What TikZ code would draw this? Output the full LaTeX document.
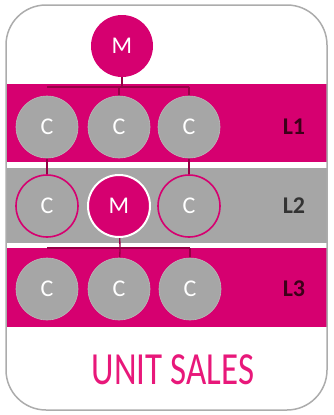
\documentclass[tikz,border=0pt]{standalone}
\usepackage{fontspec}
\setmainfont{Carlito}
\pgfdeclarelayer{bands}
\pgfdeclarelayer{links}
\pgfsetlayers{bands,links,main}
\definecolor{mag}{RGB}{214,0,112}
\definecolor{gry}{RGB}{166,166,166}
\definecolor{lnk}{RGB}{150,0,70}
\definecolor{lbl}{RGB}{60,0,25}
\definecolor{pinktext}{RGB}{232,24,122}
\tikzset{
  cc/.style={circle, minimum size=62pt, inner sep=0pt, fill=gry, draw=gry!80!white, line width=0.6pt,
    text=white, font=\fontsize{24}{24}\selectfont},
  cring/.style={cc, draw=mag, line width=1.6pt},
  mm/.style={circle, minimum size=62pt, inner sep=0pt, fill=mag, text=white, font=\fontsize{24}{24}\selectfont},
  mwhite/.style={mm, draw=white, line width=2pt},
  lvl/.style={font=\bfseries\fontsize{24}{24}\selectfont, text=lbl},
  link/.style={draw=lnk, line width=1.3pt},
}
\begin{document}
\begin{tikzpicture}[x=1pt,y=-1pt]
\useasboundingbox (0,0) rectangle (333,415);
\begin{pgfonlayer}{bands}
  \fill[mag] (6,84) rectangle (327,162);
  \fill[gry] (6,168) rectangle (327,243);
  \fill[mag] (6,248) rectangle (327,327);
\end{pgfonlayer}
% nodes
\node[mm] (mt) at (122,46) {M};
\node[cc] (a1) at (47,127) {C};
\node[cc] (a2) at (119,127) {C};
\node[cc] (a3) at (189,127) {C};
\node[cring] (b1) at (47,206) {C};
\node[mwhite] (bm) at (119,206) {M};
\node[cring] (b3) at (189,206) {C};
\node[cc] (d1) at (47,289) {C};
\node[cc] (d2) at (119,289) {C};
\node[cc] (d3) at (190,289) {C};
\node[lvl] (l1) at (294,127) {L1};
\node[lvl, text=black!80] (l2) at (294,206) {L2};
\node[lvl] (l3) at (294,289) {L3};
\node[text=pinktext, font=\fontsize{46}{46}\selectfont, xscale=0.76] (title) at (173,370) {UNIT SALES};
\coordinate (j1) at (122,87);
\coordinate (j2) at (120,248);
\begin{pgfonlayer}{links}
  \draw[link] (mt) -- (j1);
  \draw[link] (a1 |- j1) -- (a3 |- j1);
  \draw[link] (a2 |- j1) -- (a2);
  \draw[link] (a3 |- j1) -- (a3);
  \draw[link] (a1) -- (b1);
  \draw[link] (a3) -- (b3);
  \draw[link] (bm) -- (j2);
  \draw[link] (d1 |- j2) -- (d3 |- j2);
  \draw[link] (j2) -- (d2);
  \draw[link] (d3 |- j2) -- (d3);
\end{pgfonlayer}
\draw[gray!65, line width=1.5pt, rounded corners=40pt] (6,5) rectangle (327,410);
\end{tikzpicture}
\end{document}
